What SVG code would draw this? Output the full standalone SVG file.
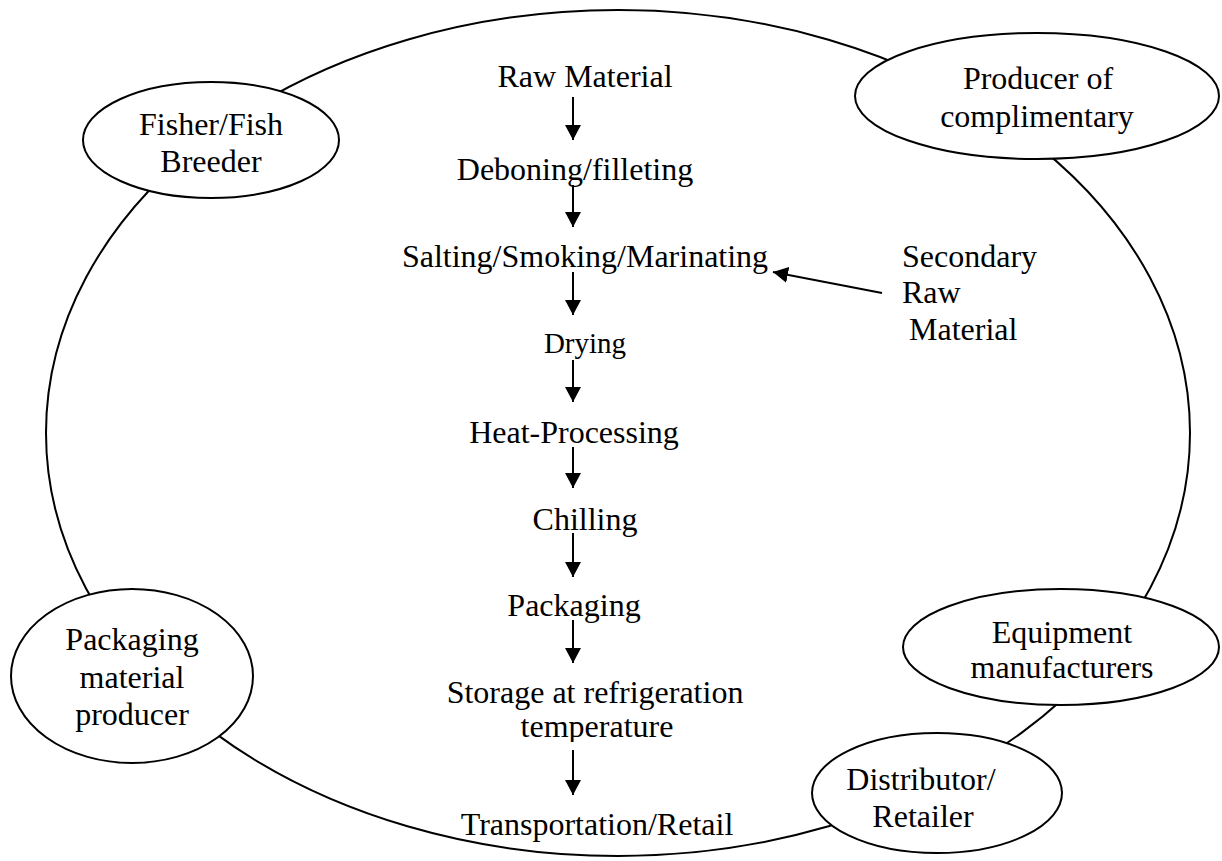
<svg xmlns="http://www.w3.org/2000/svg" width="1222" height="861" viewBox="0 0 1222 861">
  <style>
    .ring { fill: none; stroke: #000; stroke-width: 2; }
    .node { fill: #fff; stroke: #000; stroke-width: 2; }
    .lbl { font-family: "Liberation Serif", "Times New Roman", serif; font-size: 32px; fill: #000; }
    .mid { text-anchor: middle; }
    .flow { stroke: #000; stroke-width: 2; fill: none; marker-end: url(#head); }
  </style>
  <defs>
    <marker id="head" markerUnits="userSpaceOnUse" markerWidth="16" markerHeight="16" refX="15" refY="8" orient="auto">
      <path d="M0,0 L15,8 L0,16 z" fill="#000"/>
    </marker>
    <clipPath id="clipTemp">
      <rect x="400" y="700" width="400" height="42"/>
    </clipPath>
  </defs>
  <rect width="1222" height="861" fill="#fff"/>

  <!-- outer cycle -->
  <ellipse class="ring" cx="618" cy="433" rx="572" ry="423"/>

  <!-- process steps -->
  <g id="steps">
    <text class="lbl mid" x="585" y="87">Raw Material</text>
    <text class="lbl mid" x="575" y="180">Deboning/filleting</text>
    <text class="lbl mid" x="585" y="267">Salting/Smoking/Marinating</text>
    <text class="lbl mid" x="585" y="353" style="font-size:29px">Drying</text>
    <text class="lbl mid" x="574" y="443">Heat-Processing</text>
    <text class="lbl mid" x="585" y="530">Chilling</text>
    <text class="lbl mid" x="574" y="616">Packaging</text>
    <text class="lbl mid" x="595" y="703">Storage at refrigeration</text>
    <text class="lbl mid" x="597" y="737" clip-path="url(#clipTemp)">temperature</text>
    <text class="lbl mid" x="597" y="835">Transportation/Retail</text>
  </g>

  <g id="secondary">
    <text class="lbl" x="902" y="267">Secondary</text>
    <text class="lbl" x="902" y="303">Raw</text>
    <text class="lbl" x="909" y="340">Material</text>
  </g>

  <!-- connectors -->
  <g id="connectors">
    <line class="flow" x1="573" y1="97" x2="573" y2="140"/>
    <line class="flow" x1="573" y1="185" x2="573" y2="227"/>
    <line class="flow" x1="573" y1="272" x2="573" y2="315"/>
    <line class="flow" x1="573" y1="360" x2="573" y2="402"/>
    <line class="flow" x1="573" y1="447" x2="573" y2="488"/>
    <line class="flow" x1="573" y1="533" x2="573" y2="577"/>
    <line class="flow" x1="573" y1="620" x2="573" y2="663"/>
    <line class="flow" x1="573" y1="750" x2="573" y2="795"/>
    <line class="flow" x1="882" y1="293" x2="773" y2="272"/>
  </g>

  <!-- actors on the cycle -->
  <g id="fisher">
    <ellipse class="node" cx="211" cy="140" rx="128" ry="58"/>
    <text class="lbl mid" x="211" y="135">Fisher/Fish</text>
    <text class="lbl mid" x="211" y="172">Breeder</text>
  </g>
  <g id="producer">
    <ellipse class="node" cx="1037" cy="96" rx="182" ry="63"/>
    <text class="lbl mid" x="1038" y="89">Producer of</text>
    <text class="lbl mid" x="1037" y="127">complimentary</text>
  </g>
  <g id="packaging-producer">
    <ellipse class="node" cx="132" cy="676" rx="121" ry="87"/>
    <text class="lbl mid" x="132" y="650">Packaging</text>
    <text class="lbl mid" x="132" y="688">material</text>
    <text class="lbl mid" x="132" y="725">producer</text>
  </g>
  <g id="equipment">
    <ellipse class="node" cx="1061" cy="647" rx="158" ry="58"/>
    <text class="lbl mid" x="1062" y="643">Equipment</text>
    <text class="lbl mid" x="1062" y="678">manufacturers</text>
  </g>
  <g id="distributor">
    <ellipse class="node" cx="937" cy="793" rx="125" ry="60"/>
    <text class="lbl mid" x="921" y="790">Distributor/</text>
    <text class="lbl mid" x="923" y="827">Retailer</text>
  </g>
</svg>
